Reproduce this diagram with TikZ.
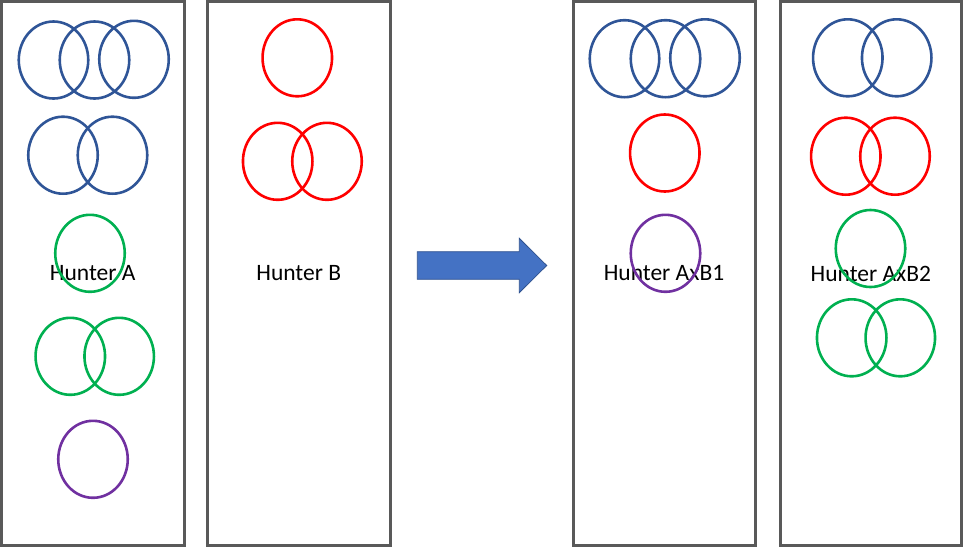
\documentclass[tikz,border=0pt]{standalone}
\usepackage{fontspec}
\setmainfont{Carlito}
\definecolor{hgray}{RGB}{89,89,89}
\definecolor{hblue}{RGB}{47,85,151}
\definecolor{hred}{RGB}{255,0,0}
\definecolor{hgreen}{RGB}{0,176,80}
\definecolor{hpurple}{RGB}{112,48,160}
\definecolor{arrfill}{RGB}{68,114,196}
\definecolor{arrline}{RGB}{47,82,143}
\usetikzlibrary{shapes.geometric}

\begin{document}
\begin{tikzpicture}[x=1pt, y=-1pt,
  panel/.style={draw=hgray, line width=3pt, minimum width=182.5pt, minimum height=544pt, inner sep=0pt, font=\fontsize{23.5}{28}\selectfont},
  ring/.style={ellipse, draw=#1, line width=2.6pt, minimum width=69.5pt, minimum height=77pt, inner sep=0pt}
]
  \useasboundingbox (0,0) rectangle (964,547);

  \node[panel] (panelA) at (92.75,273.5) {Hunter A};
  \node[panel] (panelB) at (298.75,273.5) {Hunter B};
  \node[panel, minimum width=182pt] (panelAB1) at (664,273.5) {Hunter AxB1};
  \node[panel, minimum width=181.7pt] (panelAB2) at (870.9,273.5) {Hunter AxB2};

  \node[ring=hblue] (a1) at (53.5,60) {};
  \node[ring=hblue] (a2) at (94.5,60) {};
  \node[ring=hblue] (a3) at (134,59.3) {};
  \node[ring=hblue] (a4) at (63,155.2) {};
  \node[ring=hblue] (a5) at (112.5,155.2) {};
  \node[ring=hgreen] (a6) at (90,253.3) {};
  \node[ring=hgreen] (a7) at (70.3,356.3) {};
  \node[ring=hgreen] (a8) at (119.2,356.3) {};
  \node[ring=hpurple] (a9) at (93,459.3) {};

  \node[ring=hred] (b1) at (297.3,57.8) {};
  \node[ring=hred] (b2) at (277.7,161.3) {};
  \node[ring=hred] (b3) at (327,161.3) {};

  \node[ring=hblue] (c1) at (624.5,58.7) {};
  \node[ring=hblue] (c2) at (665.5,58.7) {};
  \node[ring=hblue] (c3) at (705,57.8) {};
  \node[ring=hred] (c4) at (664.8,153) {};
  \node[ring=hpurple] (c5) at (665.5,253.3) {};

  \node[ring=hblue] (d1) at (847.8,57.8) {};
  \node[ring=hblue] (d2) at (896.7,57.8) {};
  \node[ring=hred] (d3) at (845.8,156.2) {};
  \node[ring=hred] (d4) at (895,156.2) {};
  \node[ring=hgreen] (d5) at (870.5,248.5) {};
  \node[ring=hgreen] (d6) at (851.7,337.8) {};
  \node[ring=hgreen] (d7) at (900.3,337.8) {};

  \filldraw[fill=arrfill, draw=arrline, line width=0.8pt] (417.3,251.7) -- (519.3,251.7) -- (519.3,238.3) -- (546.7,265.5) -- (519.3,292.7) -- (519.3,279.3) -- (417.3,279.3) -- cycle;
\end{tikzpicture}
\end{document}
